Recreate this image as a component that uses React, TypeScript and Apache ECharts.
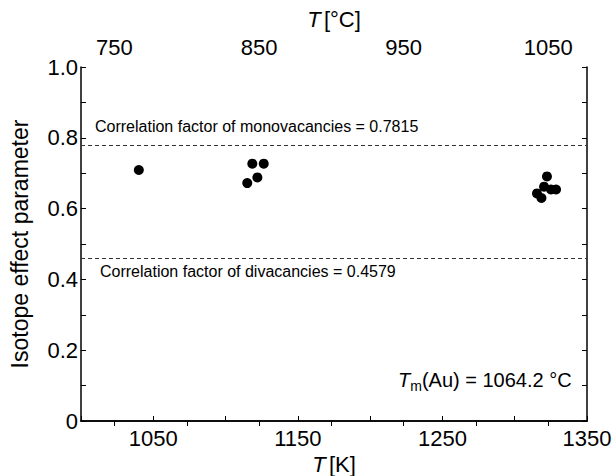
import React, { useEffect, useRef } from "react";
import * as echarts from "echarts";

const tempK: number[] = [1040, 1115, 1118.5, 1122, 1126.4, 1315.4, 1318.5, 1320.3, 1322.3, 1325.1, 1328.6];
const isotopeEffect: number[] = [0.709, 0.672, 0.727, 0.688, 0.727, 0.643, 0.630, 0.662, 0.691, 0.654, 0.654];
const monoFactor = 0.7815;
const diFactor = 0.4579;
const bottomTicks: number[] = [1050, 1150, 1250, 1350];
const topTickLabels: number[] = [750, 850, 950, 1050];
const topTicks: number[] = [750, 800, 850, 900, 950, 1000, 1050];
const KELVIN = 273.15;

const FONT = "'Liberation Sans', Arial, Helvetica, sans-serif";

export default function App() {
  const ref = useRef<HTMLDivElement>(null);
  useEffect(() => {
    if (!ref.current) return;
    const chart = echarts.init(ref.current, undefined, { renderer: "svg" });
    const xMin = 1000;
    const xMax = 1350;
    const tickStyle = { show: true, inside: true, length: 5, lineStyle: { color: "#000", width: 1 } };
    const lineStyle = { show: true, lineStyle: { color: "#000", width: 1.5 } };
    const nameRich = {
      i: { fontStyle: "italic", fontSize: 22, fontFamily: FONT, color: "#000" },
      n: { fontSize: 22, fontFamily: FONT, color: "#000" },
    };
    chart.setOption({
      animation: false,
      grid: { left: 81, right: 27, top: 67, bottom: 55, containLabel: false, outerBoundsMode: "none" },
      xAxis: [
        {
          type: "value",
          position: "bottom",
          min: xMin,
          max: xMax,
          interval: 50,
          axisLine: lineStyle,
          axisTick: tickStyle,
          splitLine: { show: false },
          axisLabel: {
            fontSize: 22,
            fontFamily: FONT,
            color: "#000",
            margin: 6,
            formatter: (v: number) => (bottomTicks.includes(Math.round(v)) ? String(Math.round(v)) : ""),
          },
          name: "{i|T} {n|[K]}",
          nameLocation: "middle",
          nameGap: 27,
          nameTextStyle: { rich: nameRich },
        },
        {
          type: "value",
          position: "top",
          min: xMin - KELVIN,
          max: xMax - KELVIN,
          axisLine: lineStyle,
          axisTick: { ...tickStyle, customValues: topTicks },
          splitLine: { show: false },
          axisLabel: {
            fontSize: 22,
            fontFamily: FONT,
            color: "#000",
            margin: 9,
            customValues: topTickLabels,
            formatter: (v: number) => String(Math.round(v)),
          },
          name: "{i|T} {n|[°C]}",
          nameLocation: "middle",
          nameGap: 37,
          nameTextStyle: { rich: nameRich },
        },
      ],
      yAxis: [
        {
          type: "value",
          position: "left",
          min: 0,
          max: 1,
          interval: 0.1,
          axisLine: lineStyle,
          axisTick: tickStyle,
          splitLine: { show: false },
          axisLabel: {
            fontSize: 22,
            fontFamily: FONT,
            color: "#000",
            margin: 3,
            formatter: (v: number) => {
              const r = Math.round(v * 10);
              if (r % 2 !== 0) return "";
              return r === 0 ? "0" : (r / 10).toFixed(1);
            },
          },
          name: "Isotope effect parameter",
          nameLocation: "middle",
          nameGap: 50,
          nameTextStyle: { fontSize: 23, fontFamily: FONT, color: "#000" },
        },
        {
          type: "value",
          position: "right",
          min: 0,
          max: 1,
          interval: 0.1,
          axisLine: lineStyle,
          axisTick: tickStyle,
          axisLabel: { show: false },
          splitLine: { show: false },
        },
      ],
      series: [
        {
          type: "scatter",
          xAxisIndex: 0,
          yAxisIndex: 0,
          symbol: "circle",
          symbolSize: 10,
          itemStyle: { color: "#000", opacity: 1 },
          data: tempK.map((x, i) => [x, isotopeEffect[i]]),
          markLine: {
            silent: true,
            symbol: "none",
            label: { show: false },
            lineStyle: { color: "#333", type: [4, 3], width: 1 },
            data: [{ yAxis: monoFactor }, { yAxis: diFactor }],
          },
        },
      ],
      graphic: [
        {
          type: "text",
          left: 95,
          top: 118,
          style: {
            text: "Correlation factor of monovacancies = " + monoFactor,
            fontSize: 16,
            fontFamily: FONT,
            fill: "#000",
          },
        },
        {
          type: "text",
          left: 100,
          top: 263,
          style: {
            text: "Correlation factor of divacancies = " + diFactor,
            fontSize: 16,
            fontFamily: FONT,
            fill: "#000",
          },
        },
        {
          type: "text",
          left: 398,
          top: 370,
          style: {
            text: "{i|T}{s|m}{n|(Au) = 1064.2 °C}",
            rich: {
              i: { fontStyle: "italic", fontSize: 20, fontFamily: FONT, fill: "#000" },
              s: { fontSize: 14, fontFamily: FONT, fill: "#000", verticalAlign: "bottom", padding: [12, 0, 0, 0] },
              n: { fontSize: 20, fontFamily: FONT, fill: "#000" },
            },
          },
        },
      ],
    });
    return () => chart.dispose();
  }, []);
  return <div ref={ref} style={{ width: 614, height: 476, position: "absolute", left: 0, top: 0 }} />;
}
